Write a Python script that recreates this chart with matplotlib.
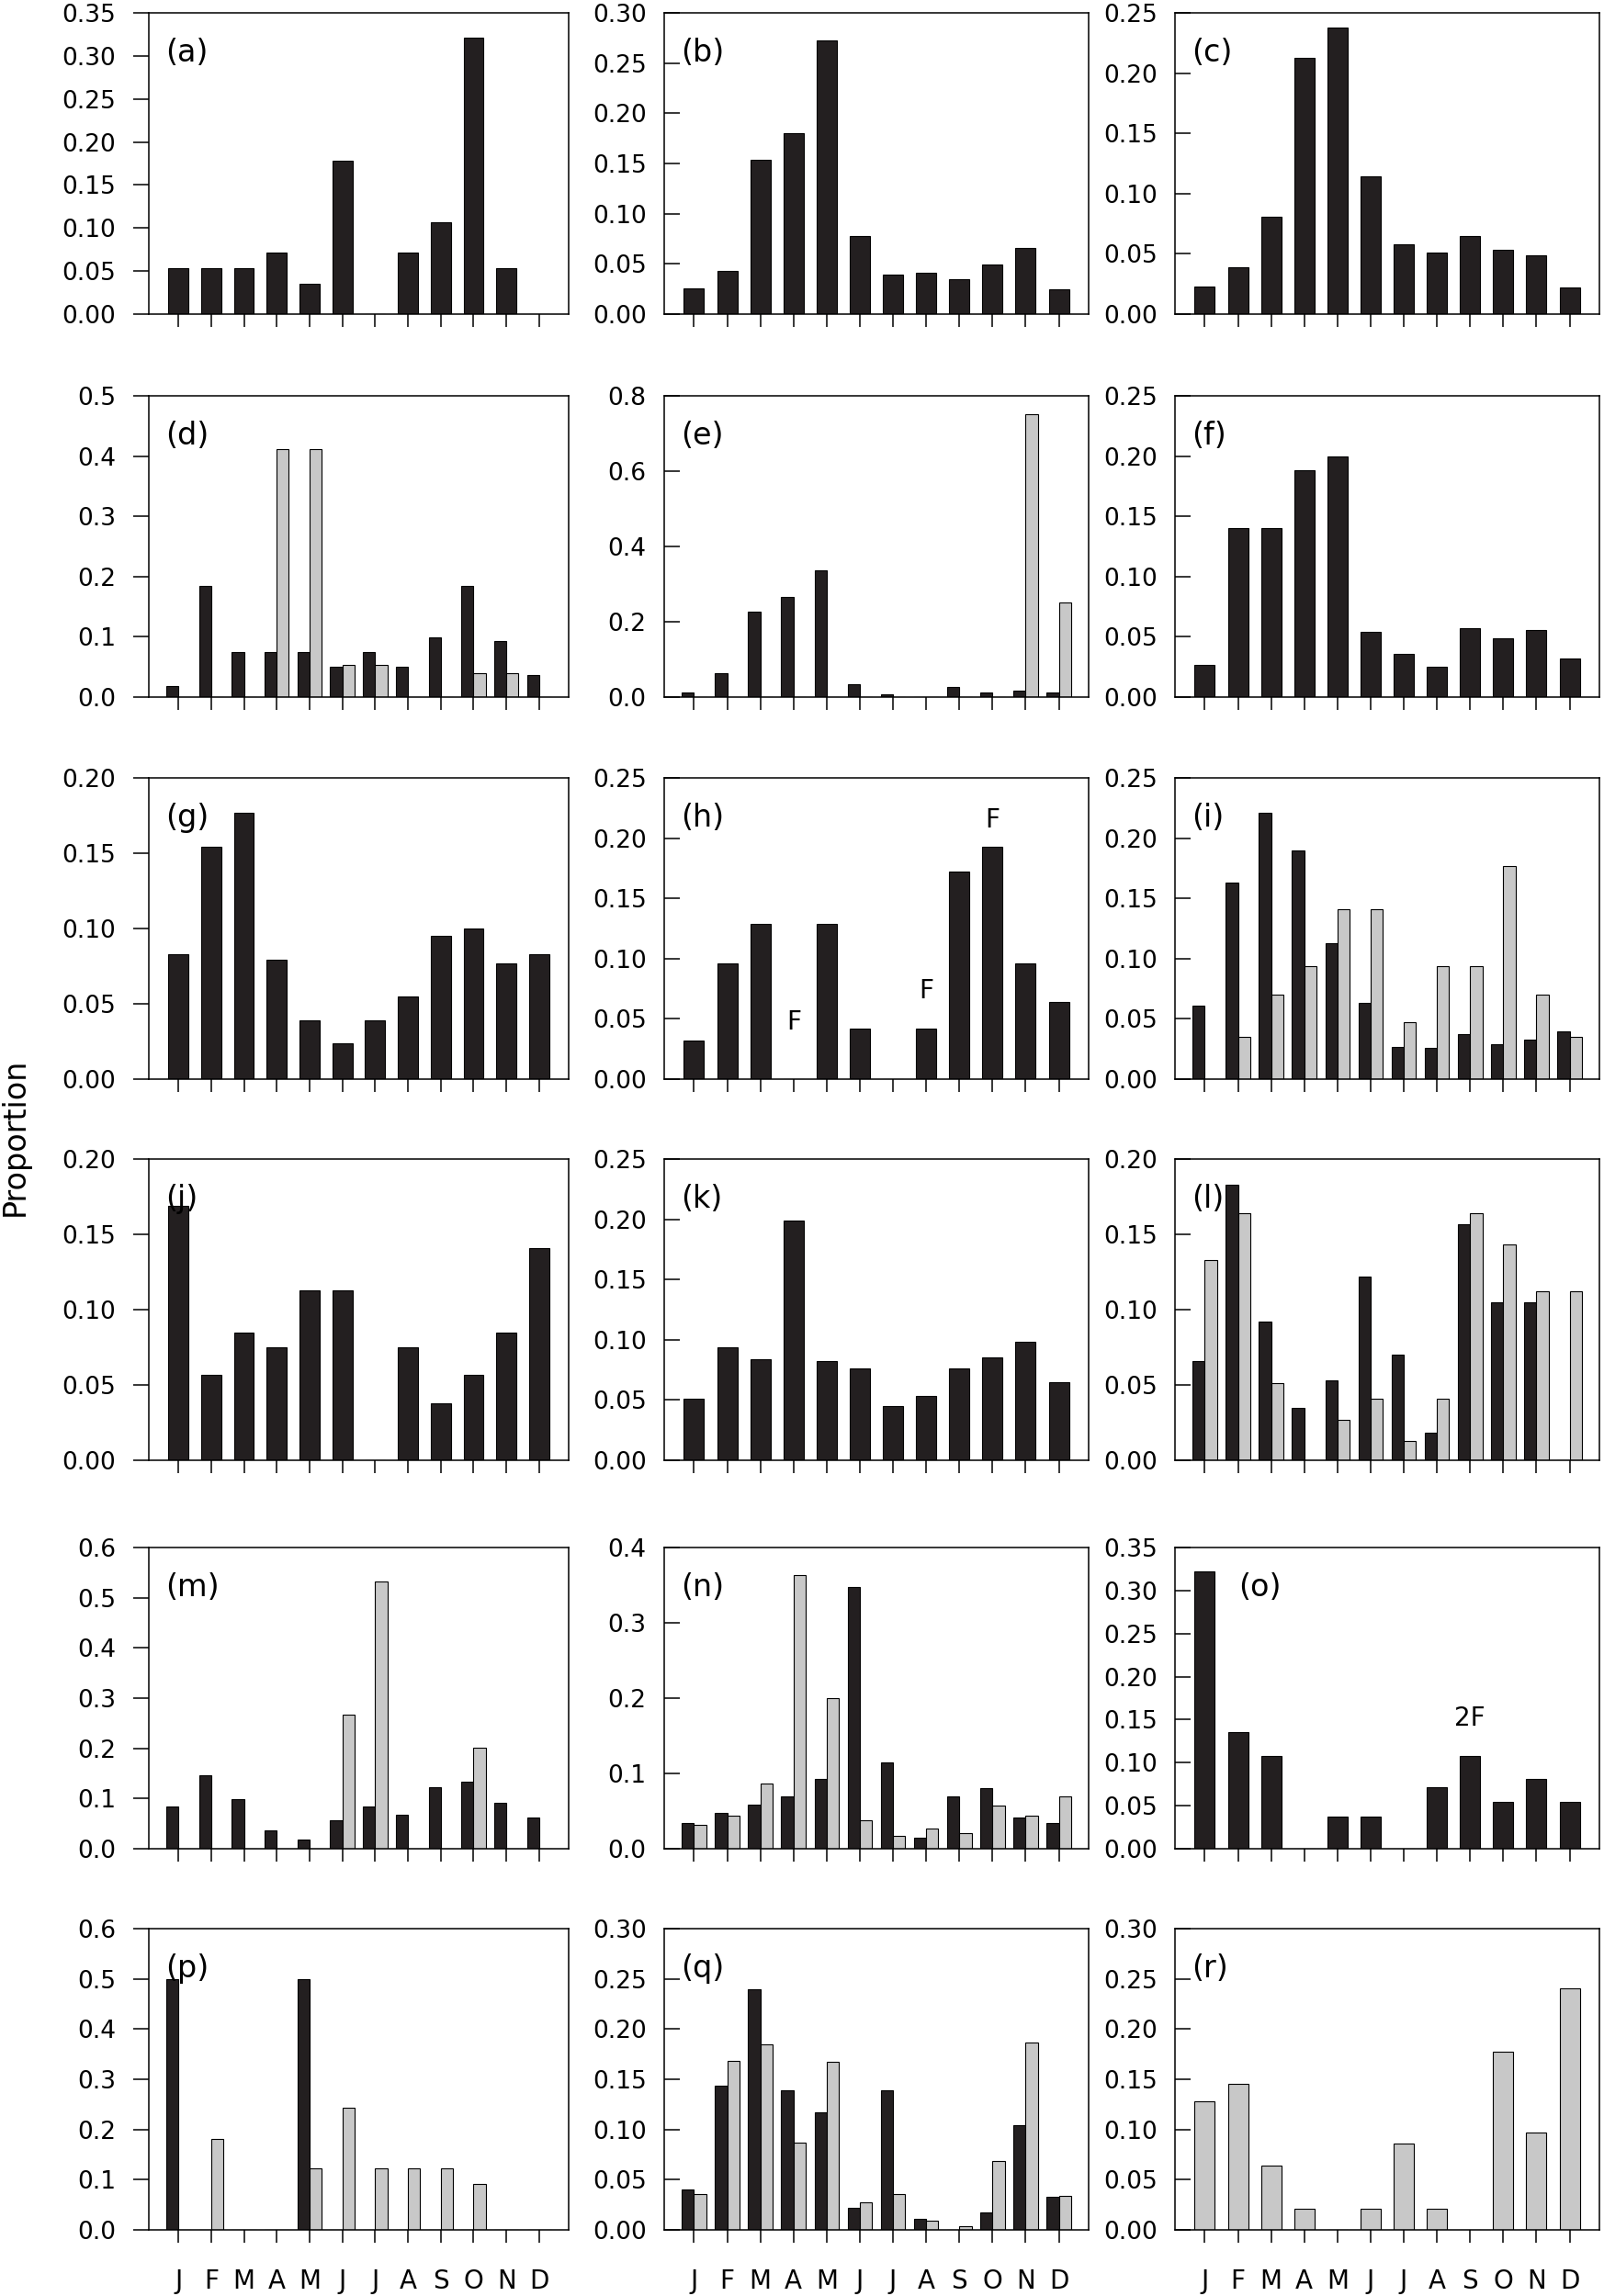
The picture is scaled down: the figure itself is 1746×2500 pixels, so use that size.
import matplotlib
matplotlib.use("Agg")
import matplotlib.pyplot as plt
import numpy as np
from matplotlib.ticker import MultipleLocator, FormatStrFormatter

plt.rcParams['font.family'] = ['DejaVu Sans']

# datos
months = ['J', 'F', 'M', 'A', 'M', 'J', 'J', 'A', 'S', 'O', 'N', 'D']

black_a = [0.0536, 0.0536, 0.0536, 0.0714, 0.0357, 0.1786, 0, 0.0714, 0.1071, 0.3214, 0.0536, 0]
black_b = [0.026, 0.043, 0.154, 0.180, 0.273, 0.078, 0.039, 0.041, 0.035, 0.049, 0.066, 0.025]
black_c = [0.023, 0.039, 0.081, 0.213, 0.238, 0.114, 0.058, 0.051, 0.065, 0.053, 0.049, 0.022]

black_d = [0.019, 0.184, 0.075, 0.075, 0.075, 0.050, 0.075, 0.050, 0.099, 0.184, 0.093, 0.037]
grey_d = [0, 0, 0, 0.411, 0.411, 0.053, 0.053, 0, 0, 0.039, 0.039, 0]
black_e = [0.013, 0.063, 0.226, 0.267, 0.337, 0.033, 0.007, 0, 0.027, 0.013, 0.017, 0.011]
grey_e = [0, 0, 0, 0, 0, 0, 0, 0, 0, 0, 0.751, 0.251]
black_f = [0.027, 0.140, 0.140, 0.188, 0.200, 0.054, 0.036, 0.025, 0.057, 0.049, 0.056, 0.032]

black_g = [0.083, 0.154, 0.177, 0.079, 0.039, 0.024, 0.039, 0.055, 0.095, 0.100, 0.077, 0.083]
black_h = [0.032, 0.096, 0.129, 0, 0.129, 0.042, 0, 0.042, 0.172, 0.193, 0.096, 0.064]
black_i = [0.061, 0.163, 0.221, 0.190, 0.113, 0.063, 0.027, 0.026, 0.037, 0.029, 0.033, 0.040]
grey_i = [0, 0.035, 0.070, 0.094, 0.141, 0.141, 0.047, 0.094, 0.094, 0.177, 0.070, 0.035]

black_j = [0.169, 0.057, 0.085, 0.075, 0.113, 0.113, 0, 0.075, 0.038, 0.057, 0.085, 0.141]
black_k = [0.051, 0.094, 0.084, 0.199, 0.082, 0.076, 0.045, 0.053, 0.076, 0.085, 0.098, 0.065]
black_l = [0.066, 0.183, 0.092, 0.035, 0.053, 0.122, 0.070, 0.018, 0.157, 0.105, 0.105, 0]
grey_l = [0.133, 0.164, 0.051, 0, 0.027, 0.041, 0.013, 0.041, 0.164, 0.143, 0.112, 0.112]

black_m = [0.085, 0.147, 0.098, 0.037, 0.018, 0.057, 0.085, 0.067, 0.123, 0.133, 0.092, 0.063]
grey_m = [0, 0, 0, 0, 0, 0.267, 0.533, 0, 0, 0.201, 0, 0]
black_n = [0.034, 0.047, 0.058, 0.069, 0.093, 0.347, 0.115, 0.015, 0.069, 0.081, 0.041, 0.034]
grey_n = [0.032, 0.044, 0.086, 0.363, 0.200, 0.038, 0.017, 0.027, 0.021, 0.057, 0.044, 0.070]
black_o = [0.322, 0.135, 0.108, 0, 0.037, 0.037, 0, 0.072, 0.108, 0.054, 0.081, 0.054]

black_p = [0.5, 0, 0, 0, 0.5, 0, 0, 0, 0, 0, 0, 0]
grey_p = [0, 0.182, 0, 0, 0.123, 0.244, 0.123, 0.123, 0.123, 0.092, 0, 0]
black_q = [0.040, 0.144, 0.240, 0.139, 0.117, 0.022, 0.139, 0.011, 0, 0.017, 0.104, 0.033]
grey_q = [0.036, 0.168, 0.185, 0.087, 0.167, 0.027, 0.036, 0.009, 0.004, 0.069, 0.187, 0.034]
grey_r = [0.128, 0.145, 0.064, 0.021, 0, 0.021, 0.086, 0.021, 0, 0.177, 0.097, 0.241]

# anotaciones (mes, altura, texto)
notes_h = [(4, 0.047, 'F'), (8, 0.073, 'F'), (10, 0.215, 'F')]
notes_o = [(9, 0.152, '2F')]

# (etiqueta, negro, gris, ymax, paso, notas)
paneles = [
    ('(a)', black_a, None, 0.35, 0.05, []),
    ('(b)', black_b, None, 0.30, 0.05, []),
    ('(c)', black_c, None, 0.25, 0.05, []),
    ('(d)', black_d, grey_d, 0.5, 0.1, []),
    ('(e)', black_e, grey_e, 0.8, 0.2, []),
    ('(f)', black_f, None, 0.25, 0.05, []),
    ('(g)', black_g, None, 0.20, 0.05, []),
    ('(h)', black_h, None, 0.25, 0.05, notes_h),
    ('(i)', black_i, grey_i, 0.25, 0.05, []),
    ('(j)', black_j, None, 0.20, 0.05, []),
    ('(k)', black_k, None, 0.25, 0.05, []),
    ('(l)', black_l, grey_l, 0.20, 0.05, []),
    ('(m)', black_m, grey_m, 0.6, 0.1, []),
    ('(n)', black_n, grey_n, 0.4, 0.1, []),
    ('(o)', black_o, None, 0.35, 0.05, notes_o),
    ('(p)', black_p, grey_p, 0.6, 0.1, []),
    ('(q)', black_q, grey_q, 0.30, 0.05, []),
    ('(r)', None, grey_r, 0.30, 0.05, []),
]

W, H = 1746, 2500
fig = plt.figure(figsize=(W / 100, H / 100), dpi=100)

col_left = [162, 723, 1279]
col_w = [457, 462, 462]
row_top = [14, 431, 847, 1262, 1685, 2100]
ax_h = 328

c_black = '#231f20'
c_grey = '#c8c8c8'
x = np.arange(1, 13)

for k, (lab, negro, gris, ymax, paso, notas) in enumerate(paneles):
    fila, col = divmod(k, 3)
    ax = fig.add_axes([col_left[col] / W, 1 - (row_top[fila] + ax_h) / H,
                       col_w[col] / W, ax_h / H])

    if negro is not None and gris is not None:
        ax.bar(x, negro, width=-0.37, align='edge', color=c_black, edgecolor='black', linewidth=0.8)
        ax.bar(x, gris, width=0.37, align='edge', color=c_grey, edgecolor='black', linewidth=0.8)
    elif negro is not None:
        ax.bar(x, negro, width=0.61, color=c_black, edgecolor='black', linewidth=0.8)
    else:
        ax.bar(x, gris, width=0.61, color=c_grey, edgecolor='black', linewidth=0.8)

    for mx, my, txt in notas:
        ax.text(mx, my, txt, ha='center', va='center', fontsize=20)

    ax.set_xlim(0.1, 12.9)
    ax.set_ylim(0, ymax)
    ax.yaxis.set_major_locator(MultipleLocator(paso))
    dec = 2 if paso < 0.1 else 1
    ax.yaxis.set_major_formatter(FormatStrFormatter('%.' + str(dec) + 'f'))
    ax.set_xticks(x)
    if fila == 5:
        ax.set_xticklabels(months, fontsize=20)
    else:
        ax.set_xticklabels([])
    # primera columna con marcas hacia fuera, las otras hacia dentro
    ydir = 'out' if col == 0 else 'in'
    ax.tick_params(axis='y', direction=ydir, length=12, width=1.1, labelsize=19, pad=14)
    ax.tick_params(axis='x', direction='out', length=10, width=1.1, pad=20)
    for s in ax.spines.values():
        s.set_linewidth(1.1)

    lx = 0.15 if lab == '(o)' else 0.04
    ax.text(lx, 0.866, lab, transform=ax.transAxes, ha='left', va='center', fontsize=24)

fig.text(0.0095, 0.505, 'Proportion', rotation=90, ha='center', va='center', fontsize=24)

fig.savefig('out.png', dpi=100)
